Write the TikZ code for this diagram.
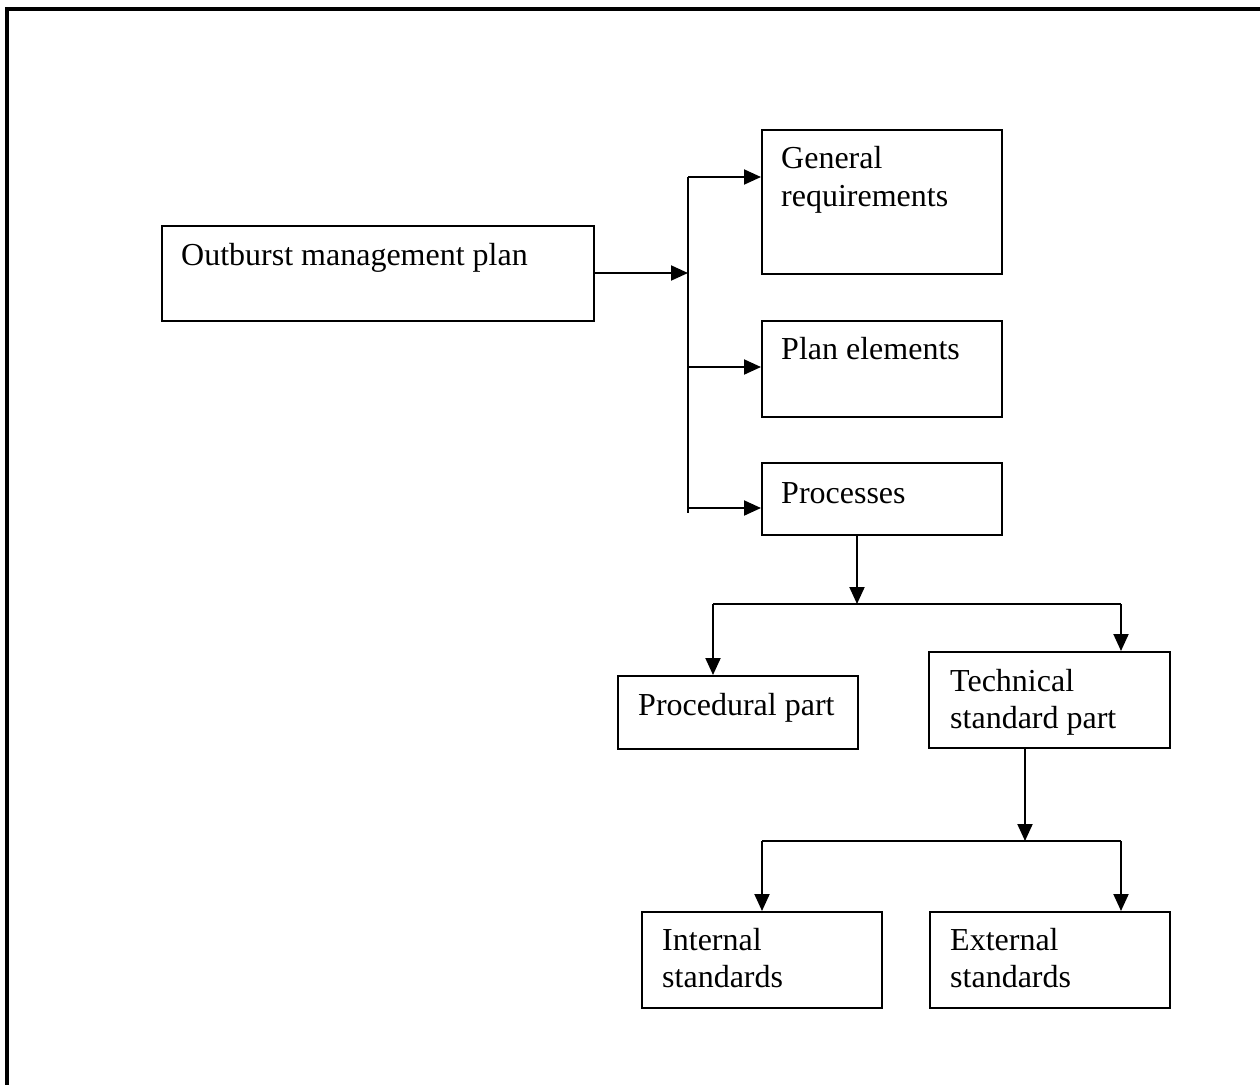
\documentclass[tikz,border=0pt]{standalone}
\usepackage{fontspec}
\setmainfont{Liberation Serif}
\usetikzlibrary{arrows.meta,calc}
\tikzset{
  box/.style={draw, line width=2pt, rectangle, inner sep=0pt, anchor=north west},
  txt/.style={inner sep=0pt, anchor=base west, font=\fontsize{32}{38}\selectfont},
  conn/.style={line width=2pt},
  arr/.style={line width=2pt, -{Triangle[length=17pt,width=15pt]}},
  frame/.style={line width=4.5pt, line cap=rect}
}
\begin{document}
\begin{tikzpicture}[x=1pt,y=-1pt]
\useasboundingbox (0,0) rectangle (1260,1084);
\draw[frame] (7,1090) -- (7,9) -- (1266,9);

% boxes
\node[box, minimum width=432pt, minimum height=95pt] (omp) at (161,225) {};
\node[box, minimum width=240pt, minimum height=144pt] (gen) at (761,129) {};
\node[box, minimum width=240pt, minimum height=96pt] (plan) at (761,320) {};
\node[box, minimum width=240pt, minimum height=72pt] (proc) at (761,462) {};
\node[box, minimum width=240pt, minimum height=73pt] (pdp) at (617,675) {};
\node[box, minimum width=241pt, minimum height=96pt] (tech) at (928,651) {};
\node[box, minimum width=240pt, minimum height=96pt] (int) at (641,911) {};
\node[box, minimum width=240pt, minimum height=96pt] (ext) at (929,911) {};

% texts
\node[txt] (tomp) at (181,265) {Outburst management plan};
\node[txt] (tgen1) at (781,168) {General};
\node[txt] (tgen2) at (781,206) {requirements};
\node[txt] (tplan) at (781,359) {Plan elements};
\node[txt] (tproc) at (781,503) {Processes};
\node[txt] (tpdp) at (638,715) {Procedural part};
\node[txt] (ttech1) at (950,691) {Technical};
\node[txt] (ttech2) at (950,728) {standard part};
\node[txt] (tint1) at (662,950) {Internal};
\node[txt] (tint2) at (662,987) {standards};
\node[txt] (text1) at (950,950) {External};
\node[txt] (text2) at (950,987) {standards};

% junction coordinates
\coordinate (jA) at (688,273);
\coordinate (tTop) at (688,177);
\coordinate (tBot) at (688,513);
\coordinate (jB) at (857,604);
\coordinate (bBL) at (713,604);
\coordinate (bBR) at (1121,604);
\coordinate (jC) at (1025,841);
\coordinate (bCL) at (762,841);
\coordinate (bCR) at (1121,841);

% connectors
\draw[arr] (omp.east |- jA) -- (jA);
\draw[conn] (tTop) -- (tBot);
\draw[arr] (tTop) -- (tTop -| gen.west);
\draw[arr] (688,367) -- (plan.west |- 0,367);
\draw[arr] (688,508) -- (proc.west |- 0,508);

\draw[arr] (proc.south -| jB) -- (jB);
\draw[conn] (bBL) -- (bBR);
\draw[arr] (bBL) -- (bBL |- pdp.north);
\draw[arr] (bBR) -- (bBR |- tech.north);

\draw[arr] (tech.south -| jC) -- (jC);
\draw[conn] (bCL) -- (bCR);
\draw[arr] (bCL) -- (bCL |- int.north);
\draw[arr] (bCR) -- (bCR |- ext.north);
\end{tikzpicture}
\end{document}
